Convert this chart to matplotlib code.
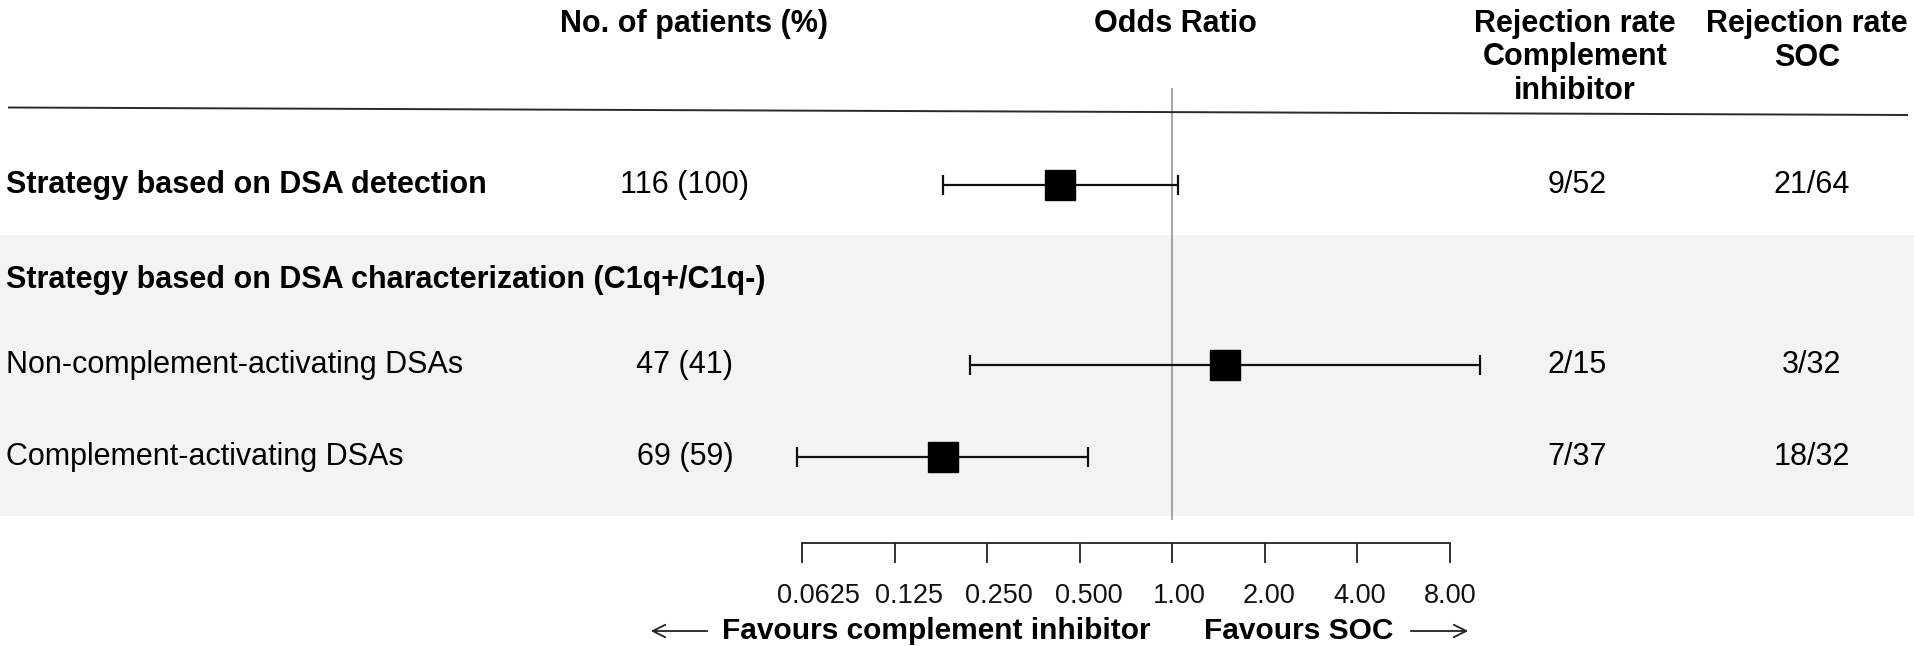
import numpy as np
import matplotlib.pyplot as plt
from matplotlib.ticker import NullLocator
from matplotlib.transforms import blended_transform_factory, ScaledTranslation

plt.rcParams['font.family'] = ['Liberation Sans', 'DejaVu Sans']

# Rows of the forest plot
labels = ['Strategy based on DSA detection',
          'Strategy based on DSA characterization (C1q+/C1q-)',
          'Non-complement-activating DSAs',
          'Complement-activating DSAs']
bold_rows = [True, True, False, False]
n_patients = ['116 (100)', '', '47 (41)', '69 (59)']
odds_ratio = [0.43, np.nan, 1.48, 0.18]
ci_low = [0.18, np.nan, 0.22, 0.060]
ci_high = [1.04, np.nan, 10.0, 0.53]
rej_inhib = ['9/52', '', '2/15', '7/37']
rej_soc = ['21/64', '', '3/32', '18/32']

tick_vals = [0.0625, 0.125, 0.25, 0.5, 1, 2, 4, 8]
tick_labels = ['0.0625', '0.125', '0.250', '0.500', '1.00', '2.00', '4.00', '8.00']

headers = [['No. of patients (%)'], ['Odds Ratio'],
           ['Rejection rate', 'Complement', 'inhibitor'],
           ['Rejection rate', 'SOC']]

# layout (pixels)
W, H = 1915, 646
row_y = [185, 280, 365, 457]
header_x = [694, 1175, 1575, 1807]
header_y = [24, 57.5, 91]
col_n, col_inhib, col_soc = 685, 1577, 1812
x_one, unit = 1172.3, 92.5   # px of OR=1 and px per doubling
fs = 22

fig = plt.figure(figsize=(W / 100, H / 100), dpi=100)
ax = fig.add_axes([0, 0, 1, 1])
ax.set_xscale('log', base=2)
ax.set_xlim(2 ** (-x_one / unit), 2 ** ((W - x_one) / unit))
ax.set_ylim(H, 0)
tr = blended_transform_factory(fig.transFigure, ax.transData)

# shaded subgroup band, header rule, reference line
ax.axhspan(235, 516, color='#f3f3f3', zorder=0, lw=0)
ax.plot([9 / W, 1907 / W], [107.5, 115], transform=tr, color='#2a2a2a', lw=1.4)
ax.vlines(1, 88, 520, color='#8c8c8c', lw=1.1, zorder=1)

# confidence intervals and point estimates
or_arr = np.array(odds_ratio)
ax.errorbar(or_arr, row_y, xerr=[or_arr - np.array(ci_low), np.array(ci_high) - or_arr],
            fmt='none', ecolor='#111111', elinewidth=1.6, capsize=7, capthick=1.6, zorder=2)
ax.plot(or_arr, row_y, 's', color='black', ms=21, zorder=3)

# text columns
for i, lab in enumerate(labels):
    w = 'bold' if bold_rows[i] else 'normal'
    ax.text(6 / W, row_y[i], lab, transform=tr, ha='left', va='center', fontsize=fs, weight=w)
    ax.text(col_n / W, row_y[i], n_patients[i], transform=tr, ha='center', va='center', fontsize=fs)
    ax.text(col_inhib / W, row_y[i], rej_inhib[i], transform=tr, ha='center', va='center', fontsize=fs)
    ax.text(col_soc / W, row_y[i], rej_soc[i], transform=tr, ha='center', va='center', fontsize=fs)

for hx, lines in zip(header_x, headers):
    for j, line in enumerate(lines):
        ax.text(hx / W, header_y[j], line, transform=tr, ha='center', va='center',
                fontsize=fs, weight='bold')

# odds ratio axis
for s in ['top', 'left', 'right']:
    ax.spines[s].set_visible(False)
ax.spines['bottom'].set_position(('data', 542.5))
ax.spines['bottom'].set_bounds(tick_vals[0], tick_vals[-1])
ax.spines['bottom'].set_linewidth(1.3)
ax.spines['bottom'].set_color('#222222')
ax.set_xticks(tick_vals, tick_labels)
ax.xaxis.set_minor_locator(NullLocator())
ax.set_yticks([])
ax.tick_params(axis='x', direction='out', length=14.2, width=1.3, color='#222222',
               labelsize=19.5, pad=15, labelcolor='#111111')
for v, t in zip(tick_vals, ax.get_xticklabels()):
    shift = 2.3 * (3 - np.log2(v)) / 100
    t.set_transform(t.get_transform() + ScaledTranslation(shift, 0, fig.dpi_scale_trans))

# favours annotations
ax.text(936 / W, 631, 'Favours complement inhibitor', transform=tr, ha='center', va='center',
        fontsize=21.5, weight='bold')
ax.text(1299 / W, 631, 'Favours SOC', transform=tr, ha='center', va='center',
        fontsize=21.5, weight='bold')
arrow = dict(arrowstyle='->,head_length=0.9,head_width=0.45', lw=1.3, color='#222222')
ax.annotate('', xy=(648 / W, 631), xytext=(710 / W, 631), xycoords=tr, textcoords=tr,
            arrowprops=arrow)
ax.annotate('', xy=(1471 / W, 631), xytext=(1408 / W, 631), xycoords=tr, textcoords=tr,
            arrowprops=arrow)

fig.savefig('out.png', dpi=100)
